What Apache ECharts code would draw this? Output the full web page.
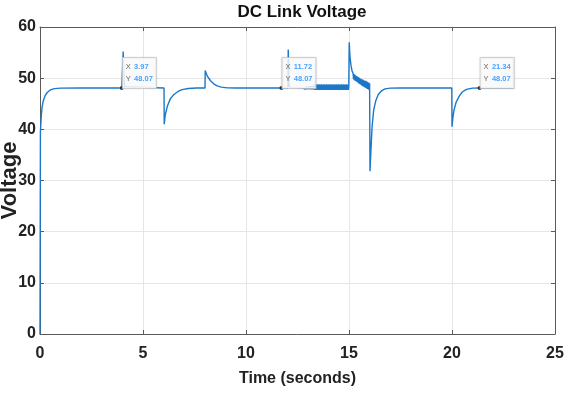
<!DOCTYPE html>
<html>
<head>
<meta charset="utf-8">
<script src="https://cdn.jsdelivr.net/npm/echarts@6/dist/echarts.min.js"></script>
<style>html,body{margin:0;padding:0;background:#fff}#c{width:564px;height:393px}</style>
</head>
<body>
<div id="c"></div>
<script>
// ---- data ([time s, voltage V]) ----
const startup = [[0,0],[0.02,39.5],[0.06,42.5],[0.1,44.3],[0.16,45.6],[0.25,46.6],[0.35,47.2],[0.5,47.7],[0.7,47.95],[1.0,48.05],[2.0,48.07],[3.97,48.07]];
const event4 = [[4.03,48.07],[4.04,55.2],[4.07,49.5],[4.12,48.3],[4.2,48.07],[6.02,48.07]];
const event6 = [[6.03,41.0],[6.08,42.8],[6.18,44.5],[6.33,46.0],[6.5,46.8],[6.7,47.4],[6.9,47.75],[7.2,47.98],[7.6,48.07],[8.01,48.07]];
const event8 = [[8.02,51.5],[8.12,50.4],[8.28,49.5],[8.43,48.9],[8.6,48.5],[8.8,48.25],[9.1,48.1],[9.5,48.07],[11.72,48.07],[12.04,48.07]];
const event12 = [[12.05,55.6],[12.08,49.0],[12.13,48.2],[12.2,48.07],[12.75,48.07]];
const ripple12 = [[12.78,48.3],[12.81,47.85],[12.84,48.35],[12.87,47.85],[12.9,48.3],[12.93,47.8],[12.96,48.35],[12.99,47.85],[13.02,48.4],[13.05,47.8],[13.08,48.4],[13.11,47.85],[13.14,48.45],[13.17,47.8],[13.2,48.45],[13.23,47.8],[13.26,48.5],[13.29,47.8]];
const ripple13 = [[13.31,48.7],[13.33,47.75],[13.35,48.75],[13.37,47.7],[13.39,48.7],[13.41,47.7],[13.43,48.8],[13.45,47.7],[13.47,48.75],[13.49,47.75],[13.51,48.7],[13.53,47.7],[13.55,48.8],[13.57,47.7],[13.59,48.75],[13.61,47.7],[13.63,48.7],[13.65,47.75],[13.67,48.8],[13.69,47.7],[13.71,48.75],[13.73,47.7],[13.75,48.7],[13.77,47.7],[13.79,48.8],[13.81,47.75],[13.83,48.75],[13.85,47.7],[13.87,48.7],[13.89,47.7],[13.91,48.8],[13.93,47.7],[13.95,48.75],[13.97,47.75],[13.99,48.7],[14.01,47.7],[14.03,48.8],[14.05,47.7],[14.07,48.75],[14.09,47.7],[14.11,48.7],[14.13,47.75],[14.15,48.8],[14.17,47.7],[14.19,48.75],[14.21,47.7],[14.23,48.7],[14.25,47.7],[14.27,48.8],[14.29,47.75],[14.31,48.75],[14.33,47.7],[14.35,48.7],[14.37,47.7],[14.39,48.8],[14.41,47.7],[14.43,48.75],[14.45,47.75],[14.47,48.7],[14.49,47.7],[14.51,48.8],[14.53,47.7],[14.55,48.75],[14.57,47.7],[14.59,48.7],[14.61,47.75],[14.63,48.8],[14.65,47.7],[14.67,48.75],[14.69,47.7],[14.71,48.7],[14.73,47.7],[14.75,48.8],[14.77,47.75],[14.79,48.75],[14.81,47.7],[14.83,48.7],[14.85,47.7],[14.87,48.8],[14.89,47.7],[14.91,48.75],[14.93,47.75],[14.95,48.7],[14.97,47.7],[14.99,48.6]];
const event15 = [[15.01,57.0],[15.05,54.0],[15.1,52.4],[15.15,51.4],[15.2,50.9],[15.22,49.8],[15.24,50.8],[15.26,49.6],[15.28,50.7],[15.3,49.5],[15.32,50.5],[15.34,49.4],[15.36,50.4],[15.38,49.3],[15.4,50.3],[15.42,49.2],[15.44,50.2],[15.46,49.0],[15.48,50.1],[15.5,48.9],[15.52,50.0],[15.54,48.8],[15.56,49.9],[15.58,48.7],[15.6,49.8],[15.62,48.6],[15.64,49.8],[15.66,48.5],[15.68,49.7],[15.7,48.4],[15.72,49.6],[15.74,48.3],[15.76,49.5],[15.78,48.2],[15.8,49.5],[15.82,48.1],[15.84,49.4],[15.86,48.0],[15.88,49.3],[15.9,47.9],[15.92,49.2],[15.94,47.8],[15.96,49.1],[15.98,47.7],[16.0,49.0]];
const event16 = [[16.02,31.8],[16.06,35.5],[16.12,40.5],[16.2,43.8],[16.3,45.6],[16.42,46.8],[16.57,47.5],[16.75,47.9],[17.0,48.05],[17.5,48.07],[19.99,48.07]];
const event20 = [[20.0,40.5],[20.05,42.5],[20.1,43.8],[20.2,45.3],[20.35,46.5],[20.5,47.3],[20.7,47.8],[21.0,48.05],[21.34,48.07],[23.0,48.07]];
const dataTips = [[3.97,48.07],[11.72,48.07],[21.34,48.07]];
const xTicks = {min:0, max:25, step:5};
const yTicks = {min:0, max:60, step:10};

const signal = [].concat(startup, event4, event6, event8, event12, ripple12, ripple13, event15, event16, event20);

const FONT = '"Liberation Sans", Arial, sans-serif';
const axisGray = '#5a5a5a';
const gridGray = '#e6e6e6';

const chart = echarts.init(document.getElementById('c'), null, {renderer:'canvas'});
const baseX = {type:'value', min:xTicks.min, max:xTicks.max, interval:xTicks.step};
const baseY = {type:'value', min:yTicks.min, max:yTicks.max, interval:yTicks.step};
chart.setOption({
  animation:false,
  backgroundColor:'#fff',
  title:{text:'DC Link Voltage', left:297, top:-1, textAlign:'center',
    textStyle:{fontFamily:FONT, fontWeight:'bold', fontSize:17, color:'#111'}},
  grid:{left:40, right:9, top:27, bottom:59, containLabel:false, outerBoundsMode:'none'},
  xAxis:[
    Object.assign({}, baseX, {position:'bottom', name:'Time (seconds)', nameLocation:'middle', nameGap:37, nameMoveOverlap:false,
      nameTextStyle:{fontFamily:FONT, fontWeight:'bold', fontSize:16, color:'#222'},
      axisLine:{show:true, onZero:false, lineStyle:{color:axisGray, width:1}},
      axisTick:{show:true, inside:true, length:4, lineStyle:{color:axisGray}},
      axisLabel:{margin:12, fontFamily:FONT, fontWeight:'bold', fontSize:16, color:'#222'},
      splitLine:{show:true, lineStyle:{color:gridGray, width:1}}}),
    Object.assign({}, baseX, {position:'top',
      axisLine:{show:true, onZero:false, lineStyle:{color:axisGray, width:1}},
      axisTick:{show:true, inside:true, length:4, lineStyle:{color:axisGray}},
      axisLabel:{show:false}, splitLine:{show:false}})
  ],
  yAxis:[
    Object.assign({}, baseY, {position:'left', name:'Voltage', nameLocation:'middle', nameGap:19, nameMoveOverlap:false,
      nameTextStyle:{fontFamily:FONT, fontWeight:'bold', fontSize:22, color:'#222'},
      axisLine:{show:true, onZero:false, lineStyle:{color:axisGray, width:1}},
      axisTick:{show:true, inside:true, length:4, lineStyle:{color:axisGray}},
      axisLabel:{margin:4, fontFamily:FONT, fontWeight:'bold', fontSize:16, color:'#222'},
      splitLine:{show:true, lineStyle:{color:gridGray, width:1}}}),
    Object.assign({}, baseY, {position:'right',
      axisLine:{show:true, onZero:false, lineStyle:{color:axisGray, width:1}},
      axisTick:{show:true, inside:true, length:4, lineStyle:{color:axisGray}},
      axisLabel:{show:false}, splitLine:{show:false}})
  ],
  series:[
    {type:'line', xAxisIndex:0, yAxisIndex:0, data:signal, showSymbol:false, symbol:'none',
      sampling:'none', lineStyle:{color:'#1a77c9', width:1.4}, z:3},
    {type:'scatter', xAxisIndex:0, yAxisIndex:0, data:dataTips, symbol:'circle', symbolSize:4,
      itemStyle:{color:'#111'}, z:5,
      label:{show:true, position:[3,-28],
        formatter:function(p){return '{k|X} {v|' + p.value[0].toFixed(2) + '}\n{k|Y} {v|' + p.value[1].toFixed(2) + '}';},
        backgroundColor:'#fff', borderColor:'#cfcfcf', borderWidth:1, padding:[3,3,3,3],
        shadowColor:'rgba(0,0,0,0.12)', shadowBlur:2,
        rich:{k:{fontFamily:FONT, fontSize:7.5, color:'#444', lineHeight:10.5},
              v:{fontFamily:FONT, fontSize:7.5, fontWeight:'bold', color:'#1a8cff', lineHeight:10.5}}}}
  ]
});
</script>
</body>
</html>
